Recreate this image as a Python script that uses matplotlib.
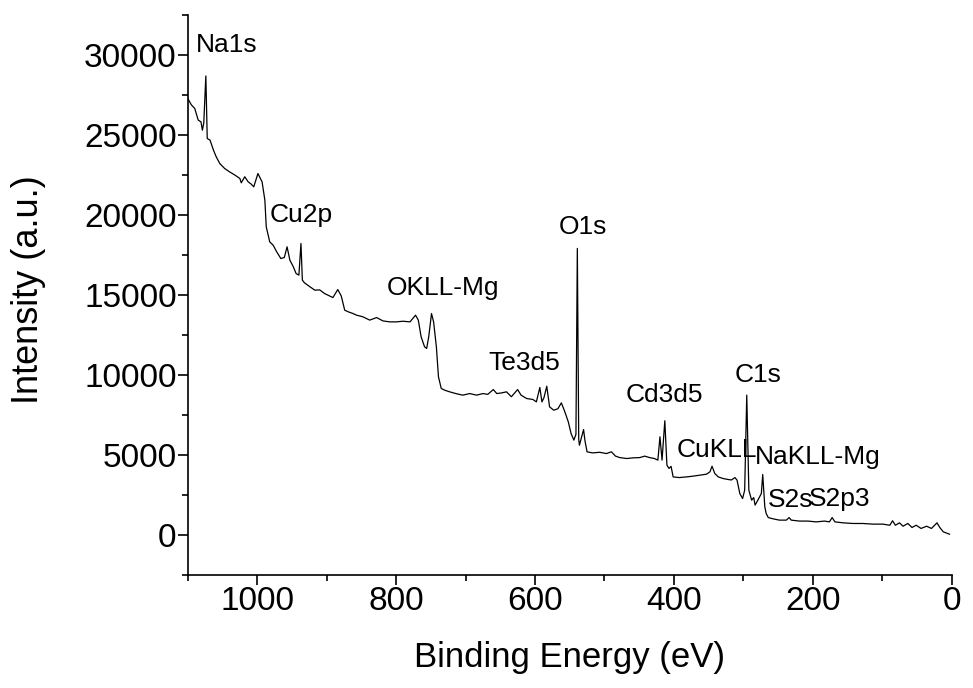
import numpy as np
import matplotlib.pyplot as plt

plt.rcParams['font.family'] = ['Liberation Sans', 'DejaVu Sans']

# espectro XPS: energía de enlace (eV) e intensidad (u.a.)
be = [1100, 1095, 1090, 1085, 1081, 1079, 1077, 1074, 1072, 1068, 1063, 1059,
      1054, 1047, 1040, 1032, 1025, 1023, 1018, 1013, 1009, 1005, 999, 993,
      989, 987, 982, 977, 972, 966, 961, 957, 953, 948, 944, 940, 937, 935,
      932, 924, 917, 910, 903, 896, 891, 884, 879, 874, 869, 862, 857, 848,
      838, 828, 819, 809, 800, 790, 780, 776, 772, 768, 764, 759, 756, 753,
      749, 746, 742, 739, 735, 730, 723, 714, 704, 694, 684, 675, 668, 660,
      655, 648, 641, 634, 625, 620, 612, 603, 598, 593, 590, 587, 583, 579,
      573, 567, 562, 557, 552, 548, 544, 541, 539, 537, 536, 533, 530, 528,
      525, 517, 507, 497, 490, 484, 478, 468, 459, 449, 442, 435, 428, 423,
      420, 417, 413, 410, 407, 404, 401, 392, 382, 372, 363, 353, 348, 345,
      341, 336, 329, 322, 317, 312, 309, 305, 301, 298, 295, 292, 288, 285,
      283, 279, 274, 272, 269, 267, 264, 257, 248, 238, 234, 231, 219, 207,
      195, 183, 176, 172, 168, 156, 142, 128, 113, 99, 89, 85, 81, 75, 70,
      63, 57, 51, 44, 36, 29, 21, 17, 12, 3]
intensity = [27300, 26900, 26670, 25940, 25830, 25310, 25750, 28700, 24790,
             24690, 24060, 23640, 23230, 22920, 22710, 22500, 22290, 22020,
             22400, 22080, 21950, 21770, 22600, 22080, 20940, 19270, 18330,
             18120, 17710, 17290, 17350, 18020, 17190, 16770, 16350, 16250,
             18230, 15940, 15770, 15520, 15310, 15330, 15100, 14950, 14850,
             15350, 14950, 14060, 13960, 13850, 13750, 13650, 13440, 13600,
             13390, 13330, 13330, 13370, 13330, 13540, 13750, 13440, 12400,
             11770, 11670, 12400, 13850, 13330, 11770, 9900, 9170, 9060, 8960,
             8850, 8750, 8850, 8750, 8850, 8800, 9100, 8850, 8890, 8960, 8650,
             9100, 8750, 8540, 8480, 8330, 9230, 8330, 8600, 9310, 8020, 7810,
             7900, 8270, 7710, 7080, 6350, 5940, 6300, 17920, 6000, 5620, 6100,
             6600, 5900, 5210, 5140, 5180, 5100, 5210, 4940, 4850, 4790, 4830,
             4850, 4940, 4850, 4790, 4690, 6150, 4690, 7150, 4380, 4170, 4300,
             3640, 3600, 3640, 3690, 3750, 3810, 3960, 4310, 3850, 3640, 3540,
             3480, 3450, 3600, 3440, 2600, 2290, 2810, 8750, 2810, 2190, 2350,
             1880, 2190, 2600, 3790, 1770, 1350, 1100, 1020, 940, 940, 1100,
             940, 880, 880, 830, 880, 830, 1100, 830, 770, 730, 730, 690, 690,
             620, 900, 620, 770, 560, 730, 480, 620, 420, 560, 420, 770, 480,
             210, 60]

# etiquetas de picos
peak_labels = ['Na1s', 'Cu2p', 'OKLL-Mg', 'O1s', 'Te3d5', 'Cd3d5', 'C1s',
               'CuKLL', 'NaKLL-Mg', 'S2s', 'S2p3']
peak_x = [1044, 937, 733, 531, 615, 413, 279, 338, 193, 232, 161]
peak_y = [30625, 20000, 15437, 19250, 10750, 8750, 10000, 5312, 4875, 2187, 2250]

fig = plt.figure(figsize=(9.73, 6.88), dpi=100)
ax = fig.add_axes([0.193, 0.164, 0.785, 0.814])

ax.plot(be, intensity, color='black', linewidth=0.9)

for lab, x, y in zip(peak_labels, peak_x, peak_y):
    ax.text(x, y, lab, ha='center', va='center', fontsize=19)

ax.set_xlim(1100, 0)
ax.set_ylim(-2500, 32500)
ax.set_xticks([1000, 800, 600, 400, 200, 0])
ax.set_xticks(np.arange(1100, -1, -100), minor=True)
ax.set_yticks(np.arange(0, 30001, 5000))
ax.set_yticks(np.arange(-2500, 32501, 2500), minor=True)

# solo ejes izquierdo e inferior
ax.spines['top'].set_visible(False)
ax.spines['right'].set_visible(False)
ax.spines['left'].set_linewidth(1.2)
ax.spines['bottom'].set_linewidth(1.2)
ax.tick_params(which='major', direction='out', length=7, width=1.2,
               labelsize=24, pad=1)
ax.tick_params(which='minor', direction='out', length=4, width=1.2)

ax.set_xlabel('Binding Energy (eV)', fontsize=25)
ax.set_ylabel('Intensity (a.u.)', fontsize=26)
ax.xaxis.set_label_coords(0.5, -0.118)
ax.yaxis.set_label_coords(-0.185, 0.509)

fig.savefig('out.png', dpi=100)
